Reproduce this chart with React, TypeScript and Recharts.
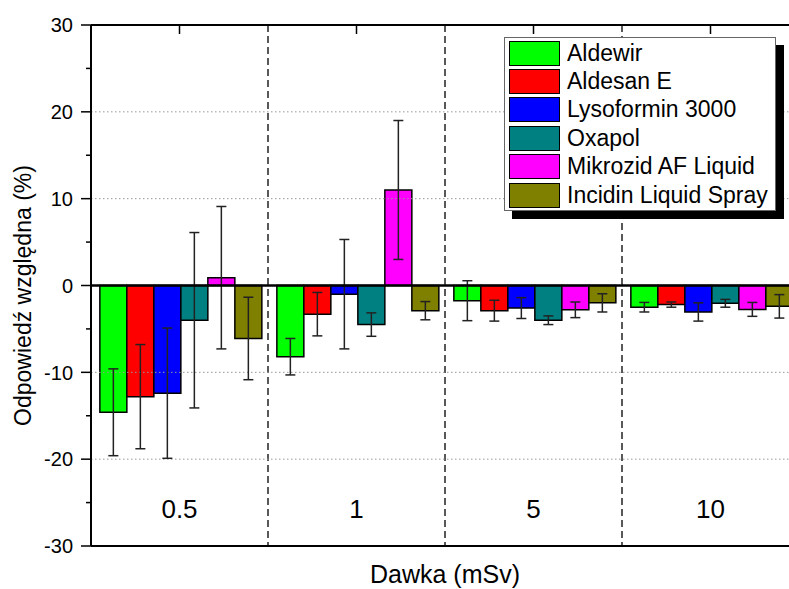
import {
  BarChart,
  Bar,
  XAxis,
  YAxis,
  ErrorBar,
  ReferenceLine,
  CartesianGrid,
  Legend,
  Label,
} from "recharts";

const doses = ["0.5", "1", "5", "10"];
const seriesNames = [
  "Aldewir",
  "Aldesan E",
  "Lysoformin 3000",
  "Oxapol",
  "Mikrozid AF Liquid",
  "Incidin Liquid Spray",
];
const seriesColors = ["#00ff00", "#ff0000", "#0000ff", "#008080", "#ff00ff", "#808000"];

// wartości średnie (%) dla dawek 0.5, 1, 5, 10 mSv
const aldewir = [-14.6, -8.2, -1.75, -2.5];
const aldesan = [-12.8, -3.3, -2.9, -2.2];
const lysoformin = [-12.4, -1.0, -2.6, -3.05];
const oxapol = [-4.0, -4.5, -4.0, -2.05];
const mikrozid = [0.9, 11.0, -2.8, -2.75];
const incidin = [-6.1, -2.9, -2.0, -2.4];

// odchylenia
const aldewirErr = [5.0, 2.1, 2.3, 0.55];
const aldesanErr = [6.0, 2.5, 1.2, 0.3];
const lysoforminErr = [7.5, 6.3, 1.2, 1.05];
const oxapolErr = [10.1, 1.35, 0.5, 0.45];
const mikrozidErr = [8.2, 8.0, 0.9, 0.8];
const incidinErr = [4.75, 1.05, 1.05, 1.35];

const yTicks = [-30, -25, -20, -15, -10, -5, 0, 5, 10, 15, 20, 25, 30];
const gridValues = [-20, -10, 10, 20];

const seriesValues = [aldewir, aldesan, lysoformin, oxapol, mikrozid, incidin];
const seriesErrors = [aldewirErr, aldesanErr, lysoforminErr, oxapolErr, mikrozidErr, incidinErr];

const data = doses.map((dose, i) => {
  const row: Record<string, number | string> = { dose };
  seriesNames.forEach((name, s) => {
    row[`s${s}`] = seriesValues[s][i];
    row[`e${s}`] = seriesErrors[s][i];
  });
  return row;
});

const FONT = "'Liberation Sans', Arial, sans-serif";
const MARGIN = { top: 25, right: 21, bottom: 0, left: 0 };
const TICK_SIZE = 10;
const TICK_MARGIN = 8;

function YTick(props: any) {
  const { x, y, payload } = props;
  const ax = x + TICK_SIZE + TICK_MARGIN;
  const major = payload.value % 10 === 0;
  return (
    <g>
      <line x1={ax - (major ? TICK_SIZE : 5)} x2={ax} y1={y} y2={y} stroke="#000" strokeWidth={1.5} />
      {major && (
        <text x={x} y={y} dy="0.36em" textAnchor="end" fontSize={20} fontFamily={FONT} fill="#000">
          {payload.value}
        </text>
      )}
    </g>
  );
}

function XTick(props: any) {
  const { x, y, payload } = props;
  return (
    <g>
      <line x1={x} x2={x} y1={MARGIN.top} y2={MARGIN.top + 9} stroke="#000" strokeWidth={1.5} />
      <text x={x} y={y - 37} dy="0.36em" textAnchor="middle" fontSize={26} fontFamily={FONT} fill="#000">
        {payload.value}
      </text>
    </g>
  );
}

function YTitle(props: any) {
  const { viewBox } = props;
  const cx = viewBox.x + 23;
  const cy = viewBox.y + viewBox.height / 2 + 10;
  return (
    <text
      x={cx}
      y={cy}
      dy="0.36em"
      transform={`rotate(-90, ${cx}, ${cy})`}
      textAnchor="middle"
      fontSize={23}
      fontFamily={FONT}
      fill="#000"
    >
      Odpowiedź względna (%)
    </text>
  );
}

function LegendBox() {
  return (
    <div
      style={{
        width: 272,
        boxSizing: "border-box",
        border: "1px solid #666",
        background: "#fff",
        boxShadow: "8px 8px 0 #000",
        padding: "1px 4px 1px 4px",
        fontFamily: FONT,
        fontSize: 23,
        color: "#000",
      }}
    >
      {seriesNames.map((name, i) => (
        <div key={name} style={{ display: "flex", alignItems: "center", height: 28.4 }}>
          <div
            style={{
              width: 51,
              height: 25,
              boxSizing: "border-box",
              border: "1.5px solid #000",
              background: seriesColors[i],
              marginRight: 7,
              flexShrink: 0,
            }}
          />
          <span style={{ whiteSpace: "nowrap" }}>{name}</span>
        </div>
      ))}
    </div>
  );
}

export default function App() {
  return (
    <div
      style={{
        position: "absolute",
        left: 0,
        top: 0,
        width: 789,
        height: 589,
        overflow: "hidden",
        background: "#fff",
      }}
    >
      <BarChart
        width={820}
        height={589}
        data={data}
        margin={MARGIN}
        barCategoryGap="5%"
        barGap={0}
      >
        <CartesianGrid
          horizontal={false}
          vertical
          stroke="#222"
          strokeWidth={1.5}
          strokeDasharray="7 4"
          verticalCoordinatesGenerator={({ offset }: any) =>
            doses.slice(1).map((_, i) => offset.left + ((i + 1) * offset.width) / doses.length)
          }
        />
        {gridValues.map((v) => (
          <ReferenceLine key={v} y={v} stroke="#999" strokeWidth={1} strokeDasharray="1.5 2.5" />
        ))}
        <XAxis
          dataKey="dose"
          height={43}
          axisLine={{ stroke: "#000", strokeWidth: 2 }}
          tickLine={false}
          tickSize={0}
          tickMargin={0}
          tick={<XTick />}
          label={{
            value: "Dawka (mSv)",
            position: "insideBottom",
            offset: 6,
            fontSize: 25,
            fontFamily: FONT,
            fill: "#000",
          }}
        />
        <YAxis
          width={91}
          domain={[-30, 30]}
          ticks={yTicks}
          interval={0}
          allowDataOverflow
          axisLine={{ stroke: "#000", strokeWidth: 2 }}
          tickLine={false}
          tickSize={TICK_SIZE}
          tickMargin={TICK_MARGIN}
          tick={<YTick />}
        >
          <Label content={<YTitle />} />
        </YAxis>
        <Legend
          layout="vertical"
          align="center"
          verticalAlign="middle"
          content={<LegendBox />}
          wrapperStyle={{ top: 37, left: 504, width: 272 }}
        />
        {seriesNames.map((name, s) => (
          <Bar
            key={name}
            dataKey={`s${s}`}
            name={name}
            fill={seriesColors[s]}
            stroke="#000"
            strokeWidth={1.5}
            isAnimationActive={false}
          >
            <ErrorBar dataKey={`e${s}`} width={5} stroke="#222" strokeWidth={1.5} />
          </Bar>
        ))}
        <ReferenceLine y={0} stroke="#000" strokeWidth={2.5} />
        <ReferenceLine y={30} stroke="#000" strokeWidth={2} />
      </BarChart>
    </div>
  );
}
